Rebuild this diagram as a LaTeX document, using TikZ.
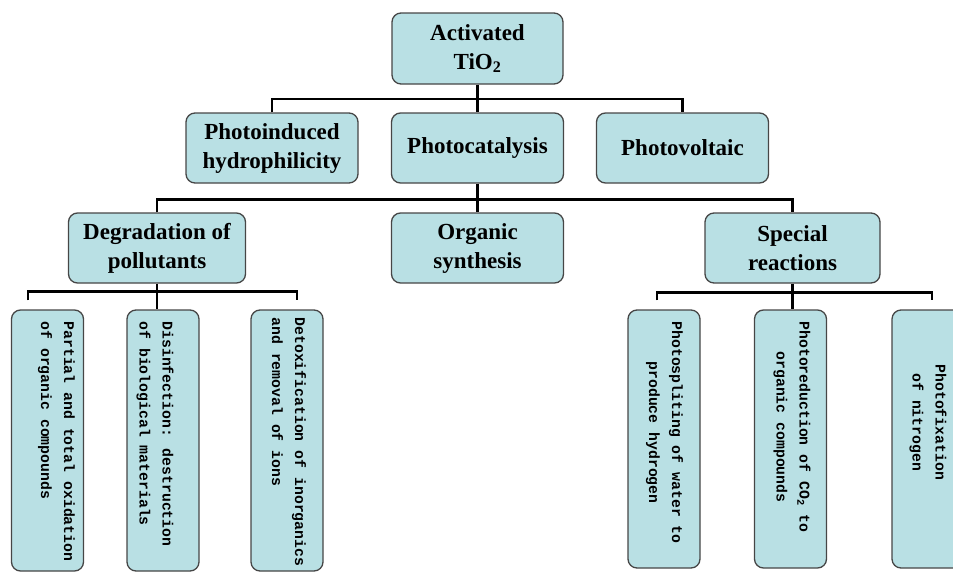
\documentclass[tikz,border=0pt]{standalone}
\usepackage{fontspec}
\setmainfont{Liberation Serif}
\newfontfamily\leaffont{Liberation Mono}
\usepackage{tikz}
\usetikzlibrary{positioning}
\definecolor{boxfill}{RGB}{185,224,228}
\definecolor{boxline}{RGB}{70,70,70}
\tikzset{box/.style={draw=boxline, fill=boxfill, line width=1.3pt, rounded corners=9pt,
    minimum width=172pt, minimum height=70pt, inner sep=2pt, align=center,
    font=\bfseries\fontsize{23}{29}\selectfont},
  leaf/.style={draw=boxline, fill=boxfill, line width=1.3pt, rounded corners=9pt,
    minimum width=72pt, minimum height=261pt, inner sep=0pt},
  leaftext/.style={rotate=-90, anchor=west, inner sep=0pt,
    font=\leaffont\bfseries\fontsize{14.8}{23}\selectfont},
  link/.style={line width=2.6pt, line join=miter}
}

\begin{document}
\begin{tikzpicture}[x=1pt, y=1pt, node distance=100pt, on grid]
  \useasboundingbox (0,0) rectangle (953,-573);

  \node[box, minimum width=171pt, minimum height=71pt] (tio2) at (477.5,-48.5) {Activated\\TiO\textsubscript{2}};
  \node[box] (photocat)  [below=99.5pt of tio2]      {Photocatalysis};
  \node[box] (photohyd)  [left=205.5pt of photocat]  {Photoinduced\\hydrophilicity};
  \node[box] (photovolt) [right=205pt of photocat]   {Photovoltaic};

  \node[box] (organic) [below=100pt of photocat] {Organic\\synthesis};
  \node[box, minimum width=177pt] (degrad)  [left=320.5pt of organic]  {Degradation of\\pollutants};
  \node[box, minimum width=175pt] (special) [right=315pt of organic]   {Special\\reactions};

  % leaves under degradation
  \node[leaf] (partial) [below left=192.5pt and 109.5pt of degrad] {};
  \node[leaf] (disinf)  [below right=192.5pt and 6pt of degrad]    {};
  \node[leaf] (detox)   [below right=192.5pt and 130pt of degrad]  {};
  \node[leaftext, align=left] (partialtxt) at ([xshift=9pt,yshift=-12pt]partial.north)
    {Partial and total oxidation\\of organic compounds};
  \node[leaftext, align=left] (disinftxt) at ([xshift=-8pt,yshift=-12pt]disinf.north)
    {Disinfection: destruction\\of biological materials};
  \node[leaftext, align=left] (detoxtxt) at ([xshift=2pt,yshift=-8pt]detox.north)
    {Detoxification of inorganics\\and removal of ions};

  % leaves under special reactions
  \node[leaf, minimum height=258pt] (split)  [below left=191pt and 128.5pt of special] {};
  \node[leaf, minimum height=258pt] (reduct) [below left=191pt and 2pt of special]     {};
  \node[leaf, minimum height=258pt] (fix)    [below right=191pt and 135.5pt of special] {};
  \node[leaftext, align=center] (splittxt) at ([xshift=0.5pt,yshift=-12pt]split.north)
    {Photospliting of water to\\produce hydrogen};
  \node[leaftext, align=center] (reducttxt) at ([xshift=1.5pt,yshift=-12pt]reduct.north)
    {Photoreduction of CO\textsubscript{2} to\\organic compounds};
  \node[leaftext, align=center] (fixtxt) at ([yshift=-55pt]fix.north)
    {Photofixation\\of nitrogen};

  % connectors
  \draw[link] (tio2) -- (photocat);
  \draw[link] (photohyd.north) |- ([yshift=-14.5pt]tio2.south) -| (photovolt.north);
  \draw[link] (photocat) -- (organic);
  \draw[link] (degrad.north) |- ([yshift=-16pt]photocat.south) -| (special.north);

  \coordinate (degL) at ([xshift=-19.5pt,yshift=9pt]partial.north);
  \coordinate (degR) at ([xshift=10pt,yshift=9pt]detox.north);
  \draw[link] (degL) |- ([yshift=-8pt]degrad.south) -| (degR);
  \draw[link] (degrad.south) -- (degrad.south |- disinf.north);

  \coordinate (spL) at ([xshift=-7pt,yshift=9pt]split.north);
  \coordinate (spR) at ([xshift=4pt,yshift=9pt]fix.north);
  \draw[link] (spL) |- ([yshift=-9pt]special.south) -| (spR);
  \draw[link] (special.south) -- (special.south |- reduct.north);
\end{tikzpicture}
\end{document}
